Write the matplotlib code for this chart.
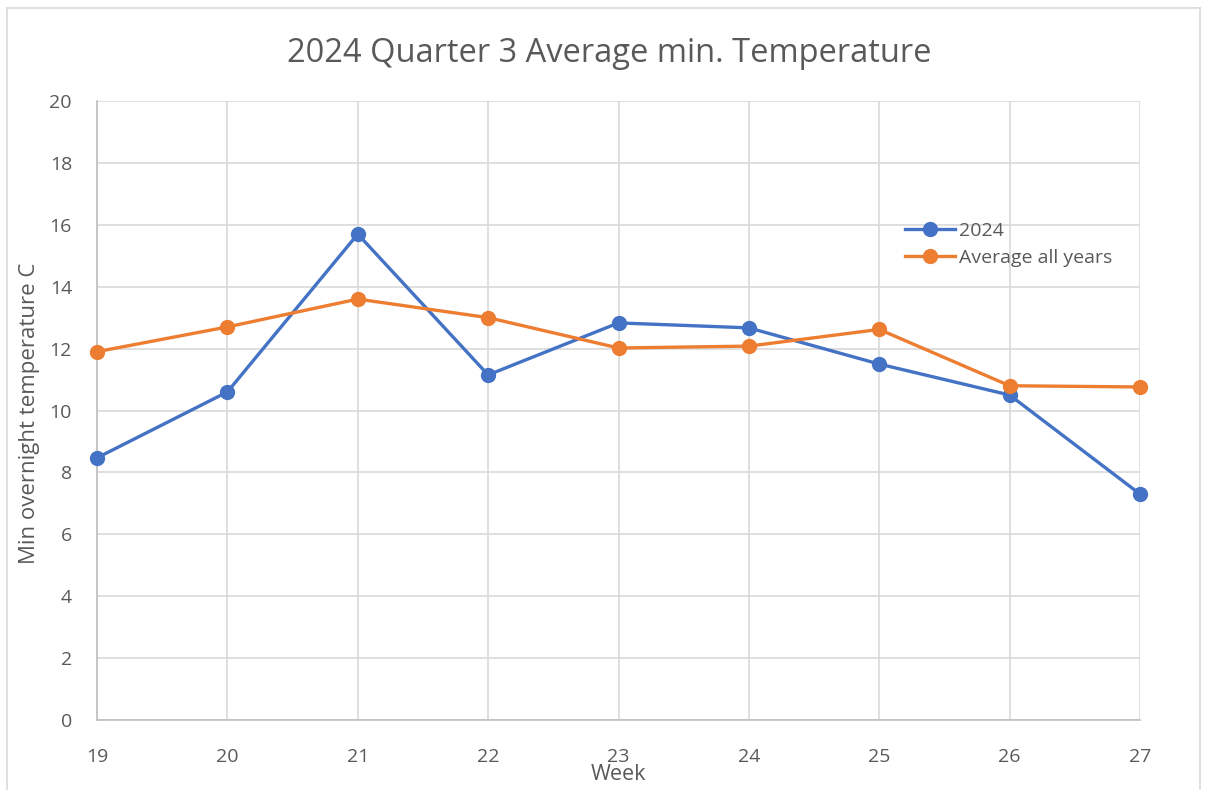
import matplotlib

matplotlib.use("Agg")
import matplotlib.pyplot as plt
from matplotlib.lines import Line2D

weeks = [19, 20, 21, 22, 23, 24, 25, 26, 27]
temp_2024 = [8.47, 10.6, 15.7, 11.15, 12.83, 12.67, 11.5, 10.5, 7.3]
temp_avg = [11.9, 12.7, 13.6, 13.0, 12.02, 12.08, 12.62, 10.8, 10.76]
y_ticks = [0, 2, 4, 6, 8, 10, 12, 14, 16, 18, 20]

text_color = "#595959"
grid_color = "#d9d9d9"
blue = "#4472C4"
orange = "#ED7D31"

plt.rcParams["font.family"] = ["Open Sans", "DejaVu Sans"]

W, H = 1205, 790
fig = plt.figure(figsize=(W / 100, H / 100), dpi=100)
ax = fig.add_axes([97 / W, 70 / H, (1140 - 97) / W, (720 - 101) / H])

ax.plot(weeks, temp_2024, color=blue, lw=2.4, marker="o", ms=10, label="2024",
        zorder=3, clip_on=False)
ax.plot(weeks, temp_avg, color=orange, lw=2.4, marker="o", ms=10, label="Average all years",
        zorder=3, clip_on=False)

ax.set_xlim(19, 27)
ax.set_ylim(0, 20)
ax.set_xticks(weeks)
ax.set_yticks(y_ticks)
ax.grid(True, color=grid_color, lw=1.2)
ax.set_axisbelow(True)
for side in ["top", "right"]:
    ax.spines[side].set_visible(False)
for side in ["left", "bottom"]:
    ax.spines[side].set_color("#bfbfbf")
    ax.spines[side].set_linewidth(1.2)
ax.tick_params(length=0, labelsize=14, colors=text_color)
ax.tick_params(axis="x", pad=20)
ax.tick_params(axis="y", pad=18)

fig.text(609 / W, 1 - 53 / H, "2024 Quarter 3 Average min. Temperature",
         ha="center", va="center", fontsize=23.5, color=text_color)
fig.text(618 / W, 1 - 774 / H, "Week", ha="center", va="center",
         fontsize=15.5, color=text_color)
fig.text(30 / W, 1 - 413 / H, "Min overnight temperature C", ha="center",
         va="center", rotation=90, fontsize=16, color=text_color)

ax.legend(loc="upper left", bbox_to_anchor=((897 - 97) / (1140 - 97), (720 - 214) / (720 - 101)),
          frameon=False, fontsize=14, labelcolor=text_color, handlelength=2.6,
          handletextpad=0.2, labelspacing=0.45, borderaxespad=0)

# chart area border
border = dict(color="#d9d9d9", lw=1.2, transform=fig.transFigure)
fig.add_artist(Line2D([7 / W, 7 / W], [0, 1 - 8 / H], **border))
fig.add_artist(Line2D([7 / W, 1200 / W], [1 - 8 / H, 1 - 8 / H], **border))
fig.add_artist(Line2D([1200 / W, 1200 / W], [0, 1 - 8 / H], **border))

fig.savefig("out.png", dpi=100)
